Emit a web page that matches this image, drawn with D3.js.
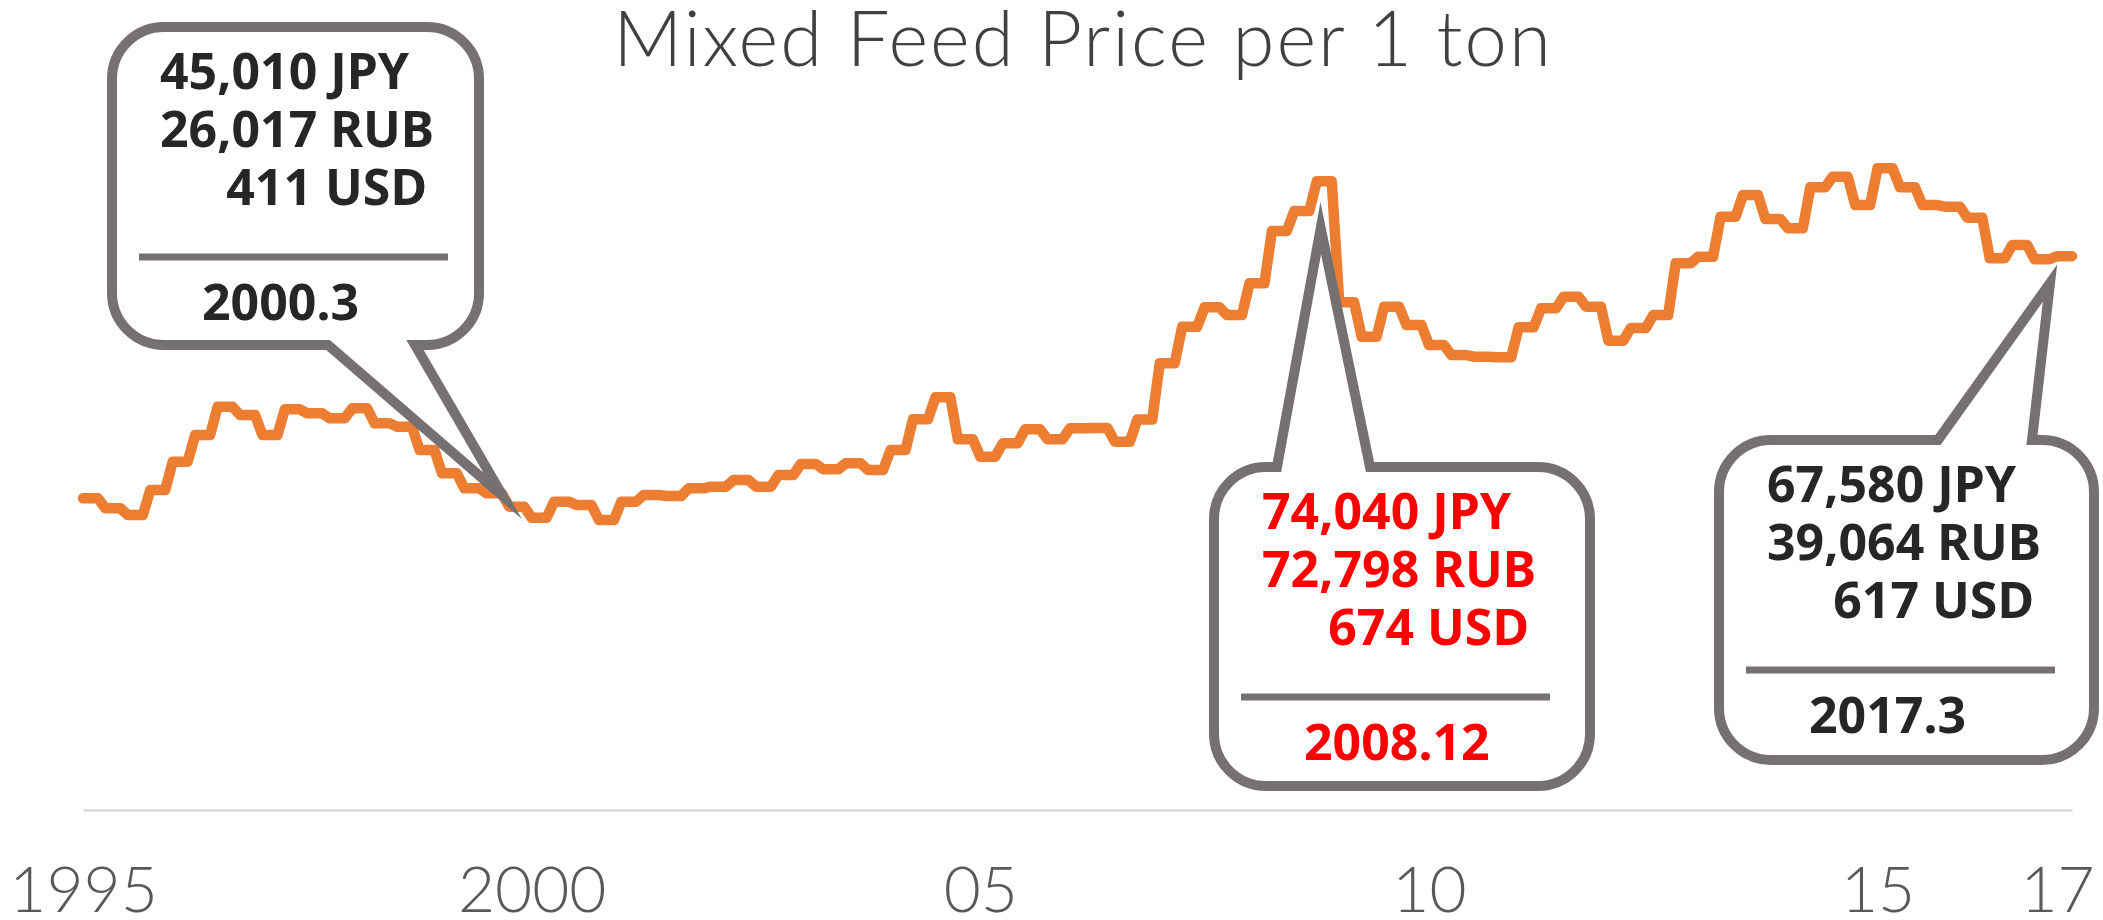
<!DOCTYPE html>
<html>
<head>
<meta charset="utf-8">
<script src="https://cdn.jsdelivr.net/npm/d3@7"></script>
<style>
  body { margin: 0; background: #fff; }
  svg { display: block; }
</style>
</head>
<body>
<div id="chart"></div>
<script>
// mixed feed price, JPY per ton, one value per quarter from 1995 Q1
var startYear = 1995
var lastMonth = 266 // March 2017
var jpyQuarterly = [
  46690, 45830, 45250, 47410, 49850, 52150, 54590, 53880, 52150, 54370,
  54020, 53590, 54450, 53160, 52870, 50860, 48850, 47550, 47120, 45970,
  45010, 46400, 46110, 44820, 46400, 46980, 46890, 47550, 47690, 48270,
  47690, 48700, 49650, 49190, 49710, 49130, 50860, 53510, 55400, 51780,
  50280, 51440, 52640, 51780, 52730, 52760, 51570, 53490, 58340, 61490,
  63170, 62500, 65240, 69750, 71480, 74040, 63600, 60630, 63220, 61640,
  59920, 59050, 58910, 58850, 61440, 63080, 64080, 63220, 60290, 61380,
  62500, 66960, 67530, 70980, 72860, 70790, 69980, 73520, 74440, 71990,
  75160, 73520, 71990, 71850, 70900, 67400, 68540, 67310, 67580
]

var tickYears = [1995, 2000, 2005, 2010, 2015, 2017]
var tickLabels = ["1995", "2000", "05", "10", "15", "17"]

// callout contents
var calloutDates = ["2000.3", "2008.12", "2017.3"]
var calloutTimes = [2000 + 2 / 12, 2008 + 11 / 12, 2017 + 2 / 12]
var calloutJPY = [45010, 74040, 67580]
var calloutRUB = [26017, 72798, 39064]
var calloutUSD = [411, 674, 617]

var width = 2103
var height = 920

// monthly series: the price holds for the three months of each quarter
var monthly = []
jpyQuarterly.forEach(function (v, k) {
    for (var i = 0; i < 3; i++) {
        var m = k * 3 + i
        if (m <= lastMonth) monthly.push({ t: startYear + m / 12, v: v })
    }
})

var x = d3.scaleLinear()
    .domain(d3.extent(monthly, d => d.t))
    .range([83, 2072])

var y = d3.scaleLinear()
    .domain([19800, 79800])
    .range([810, 114.5])

var svg = d3.select("#chart")
    .append("svg")
    .attr("width", width)
    .attr("height", height)

svg.append("rect")
    .attr("width", width)
    .attr("height", height)
    .attr("fill", "#fff")

// title
svg.append("text")
    .attr("x", 1083)
    .attr("y", 66)
    .attr("text-anchor", "middle")
    .style("font-family", "Lato, 'Noto Sans', sans-serif")
    .style("font-weight", 300)
    .style("font-size", "76px")
    .style("letter-spacing", "2px")
    .attr("fill", "#404040")
    .text("Mixed Feed Price per 1 ton")

// x axis
var axis = svg.append("g")
    .attr("transform", "translate(0,810)")
    .call(d3.axisBottom(x)
        .tickValues(tickYears)
        .tickFormat((d, i) => tickLabels[i])
        .tickSize(0)
        .tickPadding(57))
axis.select(".domain")
    .attr("stroke", "#d9d9d9")
    .attr("stroke-width", 2.5)
axis.selectAll("text")
    .style("font-family", "Lato, 'Noto Sans', sans-serif")
    .style("font-weight", 300)
    .style("font-size", "64px")
    .attr("fill", "#595959")

// price line
var line = d3.line()
    .x(d => x(d.t))
    .y(d => y(d.v))

svg.append("path")
    .datum(monthly)
    .attr("d", line)
    .attr("fill", "none")
    .attr("stroke", "#ED7D31")
    .attr("stroke-width", 10.5)
    .attr("stroke-linejoin", "round")
    .attr("stroke-linecap", "round")

// callout boxes: box edges, tail base and tail offset from the data point
var boxes = [
    { x0: 112, y0: 27, x1: 479, y1: 345, side: "bottom", j1: 328, j2: 415, dx: -44, dy: -22, color: "#262626" },
    { x0: 1214, y0: 467, x1: 1590, y1: 786, side: "top", j1: 1277, j2: 1370, dx: -11, dy: 47, color: "#FF0000" },
    { x0: 1719, y0: 440, x1: 2094, y1: 760, side: "top", j1: 1938, j2: 2032, dx: -22, dy: 27, color: "#262626" }
]
var r = 52
var fmt = d3.format(",")

function calloutPath(b, tip) {
    var p = d3.path()
    p.moveTo(b.x0 + r, b.y0)
    if (b.side === "top") {
        p.lineTo(b.j1, b.y0)
        p.lineTo(tip[0], tip[1])
        p.lineTo(b.j2, b.y0)
    }
    p.arcTo(b.x1, b.y0, b.x1, b.y0 + r, r)
    p.arcTo(b.x1, b.y1, b.x1 - r, b.y1, r)
    if (b.side === "bottom") {
        p.lineTo(b.j2, b.y1)
        p.lineTo(tip[0], tip[1])
        p.lineTo(b.j1, b.y1)
    }
    p.arcTo(b.x0, b.y1, b.x0, b.y1 - r, r)
    p.arcTo(b.x0, b.y0, b.x0 + r, b.y0, r)
    p.closePath()
    return p.toString()
}

boxes.forEach(function (b, i) {
    var tip = [x(calloutTimes[i]) + b.dx, y(calloutJPY[i]) + b.dy]
    var g = svg.append("g")
    g.append("path")
        .attr("d", calloutPath(b, tip))
        .attr("fill", "#fff")
        .attr("stroke", "#767171")
        .attr("stroke-width", 10)
        .attr("stroke-linejoin", "miter")
        .attr("stroke-miterlimit", 10)

    var rows = [
        { text: fmt(calloutJPY[i]) + " JPY", x: b.x0 + 48, dy: 62, anchor: "start" },
        { text: fmt(calloutRUB[i]) + " RUB", x: b.x0 + 48, dy: 120, anchor: "start" },
        { text: fmt(calloutUSD[i]) + " USD", x: b.x0 + 315, dy: 178, anchor: "end" },
        { text: calloutDates[i], x: b.x0 + 90, dy: 293, anchor: "start" }
    ]
    g.selectAll("text")
        .data(rows)
        .join("text")
        .attr("x", d => d.x)
        .attr("y", d => b.y0 + d.dy)
        .attr("text-anchor", d => d.anchor)
        .style("font-family", "'Noto Sans', sans-serif")
        .style("font-weight", 700)
        .style("font-size", "50px")
        .attr("fill", b.color)
        .text(d => d.text)

    g.append("line")
        .attr("x1", b.x0 + 27)
        .attr("x2", b.x0 + 336)
        .attr("y1", b.y0 + 230)
        .attr("y2", b.y0 + 230)
        .attr("stroke", "#767171")
        .attr("stroke-width", 7)
})
</script>
</body>
</html>
